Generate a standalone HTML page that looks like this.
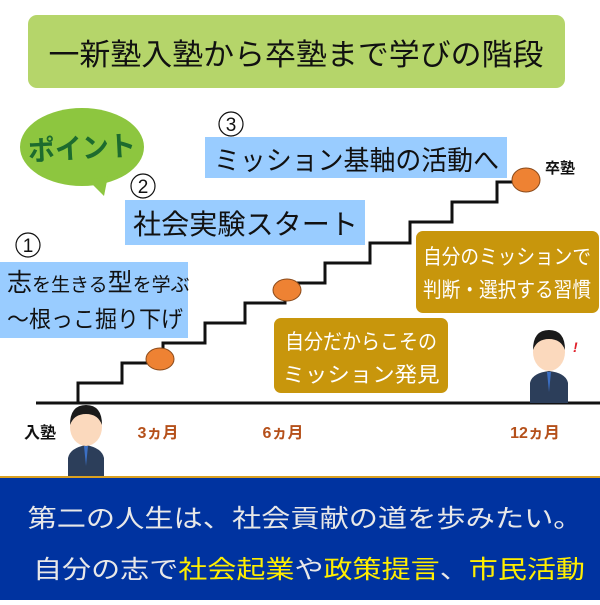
<!DOCTYPE html>
<html><head><meta charset="utf-8"><style>
html,body{margin:0;padding:0;background:#fff;}
svg text{font-family:"Liberation Sans","Noto Sans CJK JP",sans-serif;}
</style></head><body>
<svg width="600" height="600" viewBox="0 0 600 600" xmlns="http://www.w3.org/2000/svg">
<rect x="28" y="15" width="537" height="73" rx="9" fill="#b5d56a"/>
<text x="296" y="65" font-size="30" text-anchor="middle" fill="#111" textLength="495" lengthAdjust="spacingAndGlyphs">一新塾入塾から卒塾まで学びの階段</text>

<!-- point bubble -->
<ellipse cx="82" cy="147" rx="62" ry="39" fill="#8dc63f"/>
<path d="M88,180 L104,196 L108,176 Z" fill="#8dc63f"/>
<text x="82" y="158" font-size="28" font-weight="bold" fill="#1d6b2e" text-anchor="middle" transform="rotate(-3 82 150)" textLength="108" lengthAdjust="spacingAndGlyphs">ポイント</text>

<!-- blue boxes -->
<rect x="205" y="137" width="302" height="41" fill="#99ccff"/>
<text x="214" y="170" font-size="27" fill="#111" textLength="285" lengthAdjust="spacingAndGlyphs">ミッション基軸の活動へ</text>
<rect x="125" y="200" width="240" height="45" fill="#99ccff"/>
<text x="133" y="234" font-size="28" fill="#111" textLength="225" lengthAdjust="spacingAndGlyphs">社会実験スタート</text>
<rect x="0" y="262" width="188" height="76" fill="#99ccff"/>
<text x="7" y="291" fill="#111"><tspan font-size="25">志</tspan><tspan font-size="19">を生きる</tspan><tspan font-size="25">型</tspan><tspan font-size="19">を学ぶ</tspan></text>
<text x="7" y="327" font-size="23" fill="#111" textLength="176" lengthAdjust="spacingAndGlyphs">～根っこ掘り下げ</text>

<g fill="none" stroke="#111" stroke-width="1.2">
<circle cx="28" cy="245" r="12"/><circle cx="143" cy="186" r="12"/><circle cx="231" cy="124" r="12"/>
</g>
<text x="28" y="252" font-size="19" text-anchor="middle" fill="#111">1</text>
<text x="143" y="193" font-size="19" text-anchor="middle" fill="#111">2</text>
<text x="231" y="131" font-size="19" text-anchor="middle" fill="#111">3</text>

<!-- gold boxes -->
<rect x="416" y="231" width="183" height="82" rx="7" fill="#c8960c"/>
<text x="507" y="264" font-size="21" fill="#fff" text-anchor="middle" textLength="168" lengthAdjust="spacingAndGlyphs">自分のミッションで</text>
<text x="507" y="297" font-size="21" fill="#fff" text-anchor="middle" textLength="168" lengthAdjust="spacingAndGlyphs">判断・選択する習慣</text>
<rect x="274" y="318" width="174" height="75" rx="7" fill="#c8960c"/>
<text x="361" y="349" font-size="21" fill="#fff" text-anchor="middle" textLength="152" lengthAdjust="spacingAndGlyphs">自分だからこその</text>
<text x="361" y="382" font-size="21" fill="#fff" text-anchor="middle" textLength="157" lengthAdjust="spacingAndGlyphs">ミッション発見</text>

<!-- stairs -->
<line x1="36" y1="403" x2="600" y2="403" stroke="#111" stroke-width="3"/>
<polyline fill="none" stroke="#111" stroke-width="3" points="78,403 78,383 122,383 122,363 163,363 163,343 205,343 205,323 245,323 245,303 285,303 285,283 325,283 325,263 370,263 370,243 410,243 410,222 452,222 452,202 497,202 497,182 520,182"/>
<ellipse cx="160" cy="359" rx="14" ry="11" fill="#ee8233" stroke="#8a4a1a" stroke-width="1"/>
<ellipse cx="287" cy="290" rx="14" ry="11" fill="#ee8233" stroke="#8a4a1a" stroke-width="1"/>
<ellipse cx="526" cy="180" rx="14" ry="12" fill="#ee8233" stroke="#8a4a1a" stroke-width="1"/>
<text x="560" y="173" font-size="15" font-weight="bold" fill="#111" text-anchor="middle">卒塾</text>

<text x="40" y="438" font-size="16" font-weight="bold" fill="#111" text-anchor="middle">入塾</text>
<text x="158" y="438" font-size="16" font-weight="bold" fill="#b5501a" text-anchor="middle">3ヵ月</text>
<text x="283" y="438" font-size="16" font-weight="bold" fill="#b5501a" text-anchor="middle">6ヵ月</text>
<text x="535" y="438" font-size="16" font-weight="bold" fill="#b5501a" text-anchor="middle">12ヵ月</text>

<!-- person left -->
<g>
<path d="M68,478 L68,458 Q70,448 86,445 Q102,448 104,458 L104,478 Z" fill="#2c3e5a"/>
<path d="M84,446 L86,466 L88,446 Z" fill="#3b6fc4"/>
<ellipse cx="86" cy="427" rx="16" ry="19" fill="#fbd9bd"/>
<path d="M70,425 Q70,405 86,405 Q102,405 102,425 Q98,414 86,414 Q74,414 70,425 Z" fill="#1a1a1a"/>
</g>
<!-- person right -->
<g>
<path d="M530,403 L530,383 Q532,373 549,371 Q566,373 568,383 L568,403 Z" fill="#2c3e5a"/>
<path d="M547,372 L549,392 L551,372 Z" fill="#3b6fc4"/>
<ellipse cx="549" cy="352" rx="16" ry="19" fill="#fbd9bd"/>
<path d="M533,350 Q533,330 549,330 Q565,330 565,350 Q561,339 549,339 Q537,339 533,350 Z" fill="#1a1a1a"/>
<text x="573" y="352" font-size="14" font-weight="bold" fill="#e0202a" font-style="italic">!</text>
</g>

<!-- bottom band -->
<rect x="0" y="476" width="600" height="2" fill="#d9a020"/>
<rect x="0" y="478" width="600" height="122" fill="#0033a0"/>
<text x="305" y="527" font-size="25" fill="#e8e8e8" text-anchor="middle" textLength="555" lengthAdjust="spacingAndGlyphs">第二の人生は、社会貢献の道を歩みたい。</text>
<text x="33" y="578" font-size="25" fill="#e8e8e8" textLength="552" lengthAdjust="spacingAndGlyphs">自分の志で<tspan fill="#ffee00">社会起業</tspan>や<tspan fill="#ffee00">政策提言</tspan>、<tspan fill="#ffee00">市民活動</tspan></text>
</svg>
</body></html>
